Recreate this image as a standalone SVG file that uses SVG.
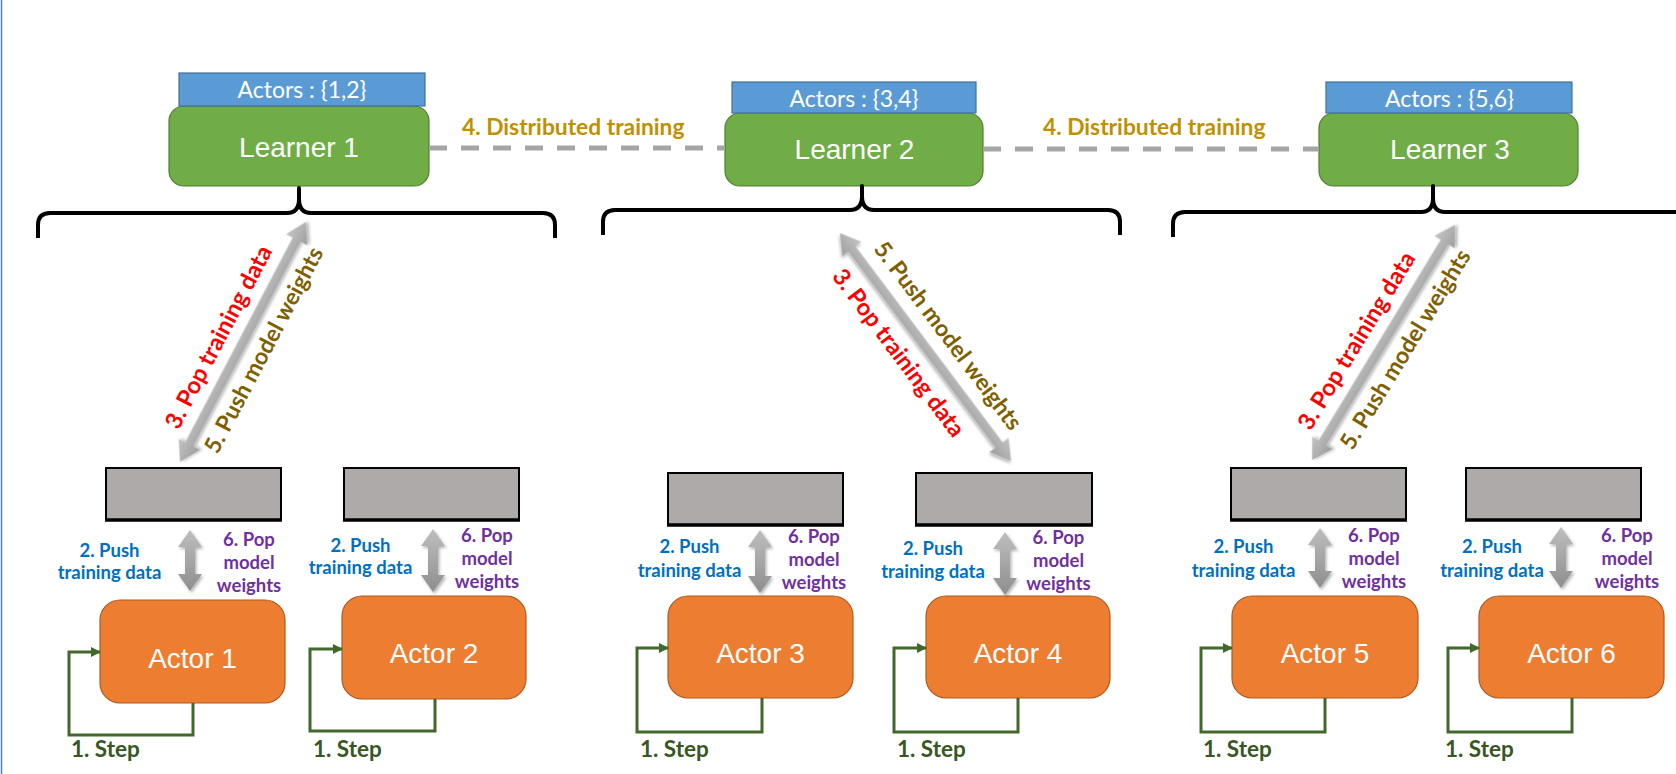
<svg xmlns="http://www.w3.org/2000/svg" width="1676" height="774" viewBox="0 0 1676 774">
  <style>
    .learner { fill: #70AD47; stroke: #507E32; stroke-width: 1.2; }
    .tag { fill: #5B9BD5; stroke: #41719C; stroke-width: 1.2; }
    .actor { fill: #ED7D31; stroke: #AE5A21; stroke-width: 1.2; }
    .queue { fill: #AEAAAA; stroke: #000; stroke-width: 2; }
    .queue-base { stroke: #000; stroke-width: 3.5; }
    .title { font-family: "Liberation Sans", Arial, sans-serif; font-size: 28px; fill: #fff; text-anchor: middle; }
    .tagtxt { font-family: Lato, "Liberation Sans", sans-serif; font-size: 23px; fill: #fff; text-anchor: middle; }
    .brace { fill: none; stroke: #000; stroke-width: 4; stroke-linejoin: round; stroke-linecap: butt; }
    .dash { stroke: #A5A5A5; stroke-width: 5; stroke-dasharray: 18 14; fill: none; }
    .dist { font-family: Lato, "Liberation Sans", sans-serif; font-weight: bold; font-size: 22.8px; fill: #BF9000; }
    .big { fill: url(#gBig); filter: url(#soft); }
    .small { fill: url(#gSmall); filter: url(#soft); }
    .loop { fill: none; stroke: #43682B; stroke-width: 3; marker-end: url(#tip); }
    .lbl { font-family: Lato, "Liberation Sans", sans-serif; font-weight: bold; }
    .pop3 { font-size: 23.5px; fill: #FF0000; text-anchor: middle; }
    .push5 { font-size: 23px; fill: #7F6000; text-anchor: middle; }
    .push2 { font-size: 18.5px; fill: #0070C0; text-anchor: middle; }
    .pop6 { font-size: 18.5px; fill: #7030A0; text-anchor: middle; }
    .step { font-size: 22.5px; fill: #385723; }
  </style>
  <defs>
    <linearGradient id="gBig" x1="0" y1="0" x2="0" y2="1">
      <stop offset="0" stop-color="#C4C4C4"/>
      <stop offset="1" stop-color="#9E9E9E"/>
    </linearGradient>
    <linearGradient id="gSmall" x1="0" y1="0" x2="0" y2="1">
      <stop offset="0" stop-color="#BEBEBE"/>
      <stop offset="1" stop-color="#8E8E8E"/>
    </linearGradient>
    <filter id="soft" x="-20%" y="-20%" width="140%" height="140%">
      <feDropShadow dx="1.5" dy="2" stdDeviation="1.5" flood-color="#000" flood-opacity="0.3"/>
    </filter>
    <marker id="tip" viewBox="0 0 10 10" refX="9" refY="5" markerWidth="10" markerHeight="10" markerUnits="userSpaceOnUse" orient="auto">
      <path d="M0,0 L10,5 L0,10 Z" fill="#43682B"/>
    </marker>
  </defs>

  <rect width="1676" height="774" fill="#fff"/>
  <line x1="1.5" y1="0" x2="1.5" y2="774" stroke="#4F81BD" stroke-width="1.5"/>

  <!-- learners with their actor sets -->
  <g id="learner1">
    <rect class="learner" x="169" y="106" width="260" height="80" rx="15"/>
    <rect class="tag" x="179" y="73" width="246" height="33"/>
    <text class="tagtxt" x="302" y="98">Actors : {1,2}</text>
    <text class="title" x="299" y="157">Learner 1</text>
  </g>
  <g id="learner2">
    <rect class="learner" x="725" y="113" width="258" height="73" rx="15"/>
    <rect class="tag" x="732" y="82" width="244" height="31"/>
    <text class="tagtxt" x="854" y="107">Actors : {3,4}</text>
    <text class="title" x="854.5" y="159">Learner 2</text>
  </g>
  <g id="learner3">
    <rect class="learner" x="1319" y="113" width="259" height="73" rx="15"/>
    <rect class="tag" x="1326" y="82" width="246" height="31"/>
    <text class="tagtxt" x="1449.5" y="107">Actors : {5,6}</text>
    <text class="title" x="1450" y="159">Learner 3</text>
  </g>

  <!-- replay queues -->
  <g id="queue1"><rect class="queue" x="106" y="468" width="175" height="52"/><line class="queue-base" x1="105" y1="520" x2="282" y2="520"/></g>
  <g id="queue2"><rect class="queue" x="344" y="468" width="175" height="52"/><line class="queue-base" x1="343" y1="520" x2="520" y2="520"/></g>
  <g id="queue3"><rect class="queue" x="668" y="473" width="175" height="52"/><line class="queue-base" x1="667" y1="525" x2="844" y2="525"/></g>
  <g id="queue4"><rect class="queue" x="916" y="473" width="176" height="52"/><line class="queue-base" x1="915" y1="525" x2="1093" y2="525"/></g>
  <g id="queue5"><rect class="queue" x="1231" y="468" width="175" height="52"/><line class="queue-base" x1="1230" y1="520" x2="1407" y2="520"/></g>
  <g id="queue6"><rect class="queue" x="1466" y="468" width="175" height="52"/><line class="queue-base" x1="1465" y1="520" x2="1642" y2="520"/></g>

  <!-- actors -->
  <g id="actor1"><rect class="actor" x="100" y="600" width="185" height="103" rx="20"/><text class="title" x="192.5" y="668">Actor 1</text></g>
  <g id="actor2"><rect class="actor" x="342" y="596" width="184" height="103" rx="20"/><text class="title" x="434" y="663">Actor 2</text></g>
  <g id="actor3"><rect class="actor" x="668" y="596" width="185" height="102" rx="20"/><text class="title" x="760.5" y="663">Actor 3</text></g>
  <g id="actor4"><rect class="actor" x="926" y="596" width="184" height="102" rx="20"/><text class="title" x="1018" y="663">Actor 4</text></g>
  <g id="actor5"><rect class="actor" x="1232" y="596" width="186" height="102" rx="20"/><text class="title" x="1325" y="663">Actor 5</text></g>
  <g id="actor6"><rect class="actor" x="1479" y="596" width="185" height="102" rx="20"/><text class="title" x="1571.5" y="663">Actor 6</text></g>

  <g id="connectors">
    <!-- distributed training links -->
    <line class="dash" x1="429" y1="148" x2="725" y2="148"/>
    <line class="dash" x1="983" y1="149" x2="1319" y2="149"/>
    <text class="dist" x="462" y="135">4. Distributed training</text>
    <text class="dist" x="1043" y="135">4. Distributed training</text>

    <!-- braces grouping each learner's actors -->
    <path class="brace" d="M38,238 V225 Q38,213 50,213 H287 Q299,213 299,199 V188 V199 Q299,213 311,213 H543 Q555,213 555,225 V238"/>
    <path class="brace" d="M603,235 V222 Q603,210 615,210 H850 Q862,210 862,196 V186 V196 Q862,210 874,210 H1108 Q1120,210 1120,222 V235"/>
    <path class="brace" d="M1173,237 V224 Q1173,212 1185,212 H1421 Q1433,212 1433,198 V186 V198 Q1433,212 1445,212 H1690"/>

    <!-- learner <-> queue transfers -->
    <g transform="translate(243,342) rotate(-62.3)">
      <path class="big" d="M-135.5,0 L-115.5,-12 L-115.5,-4.5 L115.5,-4.5 L115.5,-12 L135.5,0 L115.5,12 L115.5,4.5 L-115.5,4.5 L-115.5,12 Z"/>
      <text class="lbl pop3" x="-7" y="-16">3. Pop training data</text>
      <text class="lbl push5" x="2.5" y="30">5. Push model weights</text>
    </g>
    <g transform="translate(925.5,347) rotate(53.1)">
      <path class="big" d="M-142.5,0 L-122.5,-12 L-122.5,-4.5 L122.5,-4.5 L122.5,-12 L142.5,0 L122.5,12 L122.5,4.5 L-122.5,4.5 L-122.5,12 Z"/>
      <text class="lbl push5" x="4.5" y="-17">5. Push model weights</text>
      <text class="lbl pop3" x="-11.5" y="33">3. Pop training data</text>
    </g>
    <g transform="translate(1383.5,342.5) rotate(-58.7)">
      <path class="big" d="M-137.5,0 L-117.5,-12 L-117.5,-4.5 L117.5,-4.5 L117.5,-12 L137.5,0 L117.5,12 L117.5,4.5 L-117.5,4.5 L-117.5,12 Z"/>
      <text class="lbl pop3" x="-12.5" y="-16">3. Pop training data</text>
      <text class="lbl push5" x="5.5" y="30">5. Push model weights</text>
    </g>

    <!-- queue <-> actor transfers -->
    <path class="small" d="M190,530 L202,547 L195,547 L195,574 L202,574 L190,591 L178,574 L185,574 L185,547 L178,547 Z"/>
    <path class="small" d="M433,529 L445,546 L438,546 L438,575 L445,575 L433,592 L421,575 L428,575 L428,546 L421,546 Z"/>
    <path class="small" d="M760,530 L772,547 L765,547 L765,576 L772,576 L760,593 L748,576 L755,576 L755,547 L748,547 Z"/>
    <path class="small" d="M1005,532 L1017,549 L1010,549 L1010,578 L1017,578 L1005,595 L993,578 L1000,578 L1000,549 L993,549 Z"/>
    <path class="small" d="M1320,528 L1332,545 L1325,545 L1325,571 L1332,571 L1320,588 L1308,571 L1315,571 L1315,545 L1308,545 Z"/>
    <path class="small" d="M1561,527 L1573,544 L1566,544 L1566,571 L1573,571 L1561,588 L1549,571 L1556,571 L1556,544 L1549,544 Z"/>

    <g class="lbl push2">
      <text x="109.5" y="557">2. Push</text><text x="109.5" y="579">training data</text>
      <text x="360.5" y="552">2. Push</text><text x="360.5" y="574">training data</text>
      <text x="689.5" y="553">2. Push</text><text x="689.5" y="577">training data</text>
      <text x="933" y="555">2. Push</text><text x="933" y="578">training data</text>
      <text x="1243.5" y="553">2. Push</text><text x="1243.5" y="577">training data</text>
      <text x="1492" y="553">2. Push</text><text x="1492" y="577">training data</text>
    </g>
    <g class="lbl pop6">
      <text x="249" y="546">6. Pop</text><text x="249" y="569">model</text><text x="249" y="592">weights</text>
      <text x="487" y="542">6. Pop</text><text x="487" y="565">model</text><text x="487" y="588">weights</text>
      <text x="814" y="543">6. Pop</text><text x="814" y="566">model</text><text x="814" y="589">weights</text>
      <text x="1058.5" y="544">6. Pop</text><text x="1058.5" y="567">model</text><text x="1058.5" y="590">weights</text>
      <text x="1374" y="542">6. Pop</text><text x="1374" y="565">model</text><text x="1374" y="588">weights</text>
      <text x="1627" y="542">6. Pop</text><text x="1627" y="565">model</text><text x="1627" y="588">weights</text>
    </g>

    <!-- environment step loops -->
    <polyline class="loop" points="193,703 193,735 69,735 69,652 100,652"/>
    <polyline class="loop" points="435,699 435,731 310,731 310,649 342,649"/>
    <polyline class="loop" points="762,698 762,732 637,732 637,648 668,648"/>
    <polyline class="loop" points="1018,698 1018,732 894,732 894,648 926,648"/>
    <polyline class="loop" points="1325,698 1325,732 1201,732 1201,648 1232,648"/>
    <polyline class="loop" points="1572,698 1572,732 1448,732 1448,648 1479,648"/>
    <g class="lbl step">
      <text x="71" y="757">1. Step</text>
      <text x="313" y="757">1. Step</text>
      <text x="640" y="757">1. Step</text>
      <text x="897" y="757">1. Step</text>
      <text x="1203" y="757">1. Step</text>
      <text x="1445" y="757">1. Step</text>
    </g>
  </g>
</svg>
